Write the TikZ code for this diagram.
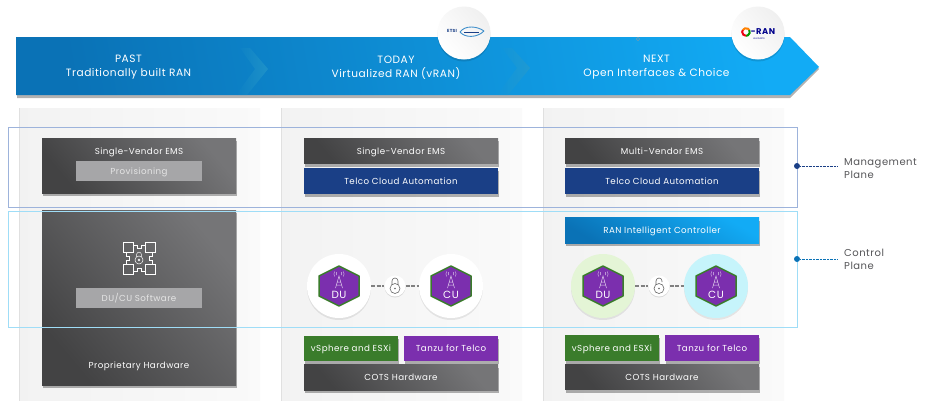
\documentclass[tikz,border=0pt]{standalone}
\usepackage{fontspec}
\setmainfont[LetterSpace=5]{Poppins}
\usetikzlibrary{shadows,fadings}

\definecolor{bandL}{HTML}{0A72B6}
\definecolor{bandR}{HTML}{12ABF5}
\definecolor{darkL}{HTML}{434344}
\definecolor{darkR}{HTML}{757577}
\definecolor{softbox}{HTML}{A6A6A8}
\definecolor{navybox}{HTML}{1A3F86}
\definecolor{greenbox}{HTML}{3A7C2B}
\definecolor{purplebox}{HTML}{7B2FAE}
\definecolor{mgmtline}{HTML}{9DB3DB}
\definecolor{ctrlline}{HTML}{9FDDF7}
\definecolor{labeltext}{HTML}{555558}
\definecolor{dudisc}{HTML}{E4F5D6}
\definecolor{cudisc}{HTML}{C6F4FB}
\definecolor{etsiblue}{HTML}{3F8FCB}

\tikzset{
  boxshadow/.style={drop shadow={shadow xshift=1pt, shadow yshift=-3pt, opacity=0.3, fill=black}},
  panel/.style={minimum width=240pt, minimum height=292pt, inner sep=0pt, left color=black!5, right color=black!2},
  boxfont/.style={font=\fontsize{8.7}{10}\selectfont, text height=6pt, text depth=0pt},
  stackbox/.style={minimum width=194pt, minimum height=25.5pt, inner sep=0pt, text=white, boxfont, boxshadow},
  darkbox/.style={stackbox, left color=darkL, right color=darkR, shading angle=130},
  bluebox/.style={stackbox, fill=navybox},
  ricbox/.style={stackbox, left color=bandL, right color=bandR, shading angle=150},
  halfbox/.style={stackbox, minimum width=94pt},
  softlabel/.style={minimum width=126pt, minimum height=20pt, inner sep=0pt, fill=softbox, text=white!90!black, boxfont},
  plaintext/.style={text=white, boxfont},
  bandtext/.style={align=center, text=white, font=\fontsize{10.6}{14}\selectfont},
  logodisc/.style={circle, minimum size=53pt, inner sep=0pt, left color=white, right color=black!6, shading angle=130, drop shadow={shadow xshift=0pt, shadow yshift=-2pt, opacity=0.12, fill=black}},
  celldisc/.style={circle, minimum size=64pt, inner sep=0pt, drop shadow={shadow xshift=0pt, shadow yshift=-2pt, opacity=0.08, fill=black}},
  lockdisc/.style={circle, minimum size=21pt, inner sep=0pt, fill=white, drop shadow={shadow xshift=0pt, shadow yshift=-1pt, opacity=0.12, fill=black}},
  linkline/.style={line width=2pt, black!50, dash pattern=on 4pt off 1.5pt},
  planebox/.style={minimum width=789pt, inner sep=0pt, line width=0.6pt},
  planedot/.style={circle, minimum size=6pt, inner sep=0pt},
  leader/.style={densely dotted, line width=0.4pt},
  planetext/.style={align=left, anchor=west, inner sep=0pt, text=labeltext, font=\fontsize{10}{13}\selectfont},
  hexcell/.pic={
    \draw[fill=purplebox, draw=greenbox, line width=1.5pt, line join=round]
      (0,-20) -- (20,-10) -- (20,10) -- (0,20) -- (-20,10) -- (-20,-10) -- cycle;
    \draw[white!75!purplebox, line width=0.5pt]
      (-3.5,2) -- (0,-10) -- (3.5,2) (-1.9,-4) -- (1.9,-4) (-2.8,-1) -- (2.8,-1);
    \draw[white!75!purplebox, line width=0.4pt]
      (-2.6,-14) arc (210:150:3) (2.6,-14) arc (-30:30:3) (-4.4,-14.5) arc (210:150:5) (4.4,-14.5) arc (-30:30:5);
  },
  lockshut/.pic={
    \draw[black!60, line width=0.6pt] (0,2.5) circle (5);
    \fill[black!60] (0,2.5) circle (0.8);
    \draw[black!60, line width=0.6pt] (-3,-1.5) -- (-3,-5) arc (180:360:3) -- (3,-1.5);
  },
  lockopen/.pic={
    \draw[black!60, line width=0.6pt] (0,2.5) circle (5);
    \fill[black!60] (0,2.5) circle (0.8);
    \draw[black!60, line width=0.6pt] (-3,-1.5) -- (-3,-5) arc (180:360:3) -- (3,-4);
  },
  linkicon/.pic={
    \draw[white, line width=0.5pt] (-16,-16) rectangle (-6,-6) (6,-16) rectangle (16,-6)
      (-16,6) rectangle (-6,16) (6,6) rectangle (16,16);
    \draw[white, line width=0.5pt] (-6,-13) -- (-2,-13) -- (-2,-10) -- (2,-10) -- (2,-13) -- (6,-13)
      (-6,13) -- (-2,13) -- (-2,10) -- (2,10) -- (2,13) -- (6,13)
      (-13,-6) -- (-13,-2) -- (-10,-2) -- (-10,2) -- (-13,2) -- (-13,6)
      (13,-6) -- (13,-2) -- (10,-2) -- (10,2) -- (13,2) -- (13,6);
    \draw[white, line width=0.5pt] (0,2) circle (4) (0,2) circle (1)
      (-2.4,-1.5) -- (-2.4,-3.5) arc (180:360:2.4) -- (2.4,-1.5);
  }
}

\begin{document}
\begin{tikzpicture}[x=1pt, y=-1pt]
  \useasboundingbox (0,0) rectangle (931,400);
  \fill[white] (0,0) rectangle (931,400);

  % columns
  \foreach \name/\cx in {panela/140, panelb/402, panelc/664} {
    \node[panel] (\name) at (\cx, 254.5) {};
    \draw[black!12, line width=1.2pt] (\name.north west) -- (\name.south west);
  }

  % top band
  \fill[black, opacity=0.3] (17,39) -- (790,39) -- (819,69) -- (790,98) -- (17,98) -- cycle;
  \shade[left color=bandL, right color=bandR, shading angle=100]
    (16,37) -- (790,37) -- (819,67) -- (790,95) -- (16,95) -- cycle;
  \fill[cyan!60!teal, path fading=west, opacity=0.6] (250,48) -- (268,69) -- (247,95) -- (236,95) -- (255,69) -- (240,48) -- cycle;
  \fill[cyan!60!teal, path fading=west, opacity=0.6] (512,48) -- (530,68) -- (508,95) -- (497,95) -- (517,68) -- (502,48) -- cycle;
  \node[bandtext] (past) at (128.5, 67.5) {PAST\\Traditionally built RAN};
  \node[bandtext] (today) at (396, 67.5) {TODAY\\Virtualized RAN (vRAN)};
  \node[bandtext] (next) at (656.5, 67.5) {NEXT\\Open Interfaces \& Choice};
  \draw[black!40, line width=0.4pt] (638,39) circle (1.6);

  % logos
  \node[logodisc] (etsi) at (464, 33) {};
  \node[text=navybox, font=\bfseries\fontsize{4.4}{5}\selectfont] (etsitext) at (452, 31) {ETSI};
  \draw[etsiblue, line width=0.9pt] (460,32) .. controls (465,25) and (477,26) .. (484,31);
  \draw[etsiblue, line width=0.9pt] (460,32) .. controls (465,38) and (477,38) .. (484,31);
  \draw[navybox, line width=0.5pt] (464,32) -- (479,32);
  \node[logodisc] (oran) at (758, 33) {};
  \foreach \col/\from/\to in {orange/-150/-30, green!60!black/-30/90, red!70!purple/90/210}
    \draw[\col, line width=2pt] (746,32) ++(\from:3.8) arc (\from:\to:3.8);
  \node[text=blue!55!black, font=\bfseries\fontsize{8.4}{9}\selectfont] (orantext) at (763, 32) {-RAN};
  \node[text=blue!55!black, font=\fontsize{2.4}{3}\selectfont] (oransub) at (759, 39) {ALLIANCE};

  % first column
  \node[darkbox, minimum height=55pt] (emsa) at (139, 165.5) {};
  \node[plaintext] (emsatext) at (139, 151.5) {Single-Vendor EMS};
  \node[softlabel] (prov) at (139, 171) {Provisioning};
  \node[darkbox, minimum height=175pt] (hwa) at (139, 297.5) {};
  \pic at (139, 258) {linkicon};
  \node[softlabel] (soft) at (139, 298) {DU/CU Software};
  \node[plaintext] (hwatext) at (139, 365.5) {Proprietary Hardware};

  % second column
  \node[darkbox] (emsb) at (401, 151) {Single-Vendor EMS};
  \node[bluebox] (tcab) at (401, 181) {Telco Cloud Automation};
  \node[halfbox, fill=greenbox] (vsb) at (351, 348.5) {vSphere and ESXi};
  \node[halfbox, fill=purplebox] (tzb) at (451, 348.5) {Tanzu for Telco};
  \node[darkbox] (hwb) at (401, 377.5) {COTS Hardware};

  % third column
  \node[darkbox] (emsc) at (662, 151) {Multi-Vendor EMS};
  \node[bluebox] (tcac) at (662, 181) {Telco Cloud Automation};
  \node[ricbox] (ric) at (662, 230.5) {RAN Intelligent Controller};
  \node[halfbox, fill=greenbox] (vsc) at (612, 348) {vSphere and ESXi};
  \node[halfbox, fill=purplebox] (tzc) at (712, 348) {Tanzu for Telco};
  \node[darkbox] (hwc) at (662, 377) {COTS Hardware};

  % DU and CU cells
  \node[celldisc, fill=white] (dub) at (339, 286) {};
  \node[celldisc, fill=white] (cub) at (451, 286) {};
  \node[celldisc, fill=dudisc] (duc) at (603, 286) {};
  \node[celldisc, fill=cudisc] (cuc) at (716, 286) {};
  \node[lockdisc] (lockb) at (395, 286) {};
  \node[lockdisc] (lockc) at (659, 286) {};
  \pic at (lockb) {lockshut};
  \pic at (lockc) {lockopen};
  \draw[linkline] (dub) -- (lockb);
  \draw[linkline] (lockb) -- (cub);
  \draw[linkline] (duc) -- (lockc);
  \draw[linkline] (lockc) -- (cuc);
  \foreach \name/\lab in {dub/DU, cub/CU, duc/DU, cuc/CU} {
    \pic at (\name) {hexcell};
    \node[text=white, font=\fontsize{10.4}{12}\selectfont] at ([yshift=-9pt]\name) {\lab};
  }

  % planes
  \node[planebox, draw=mgmtline, minimum height=80pt] (mgmt) at (402.5, 167) {};
  \node[planebox, draw=ctrlline, minimum height=116pt] (ctrl) at (402.5, 269) {};
  \node[planedot, fill=navybox] (mgmtdot) at (797, 166) {};
  \node[planedot, fill=bandL] (ctrldot) at (797, 259) {};
  \coordinate (mgmtend) at (837, 166);
  \coordinate (ctrlend) at (837, 259);
  \draw[leader, navybox] (mgmtdot) -- (mgmtend);
  \draw[leader, bandL] (ctrldot) -- (ctrlend);
  \node[planetext] (mgmttext) at (844, 168.5) {Management\\Plane};
  \node[planetext] (ctrltext) at (844, 259.5) {Control\\Plane};
\end{tikzpicture}
\end{document}
